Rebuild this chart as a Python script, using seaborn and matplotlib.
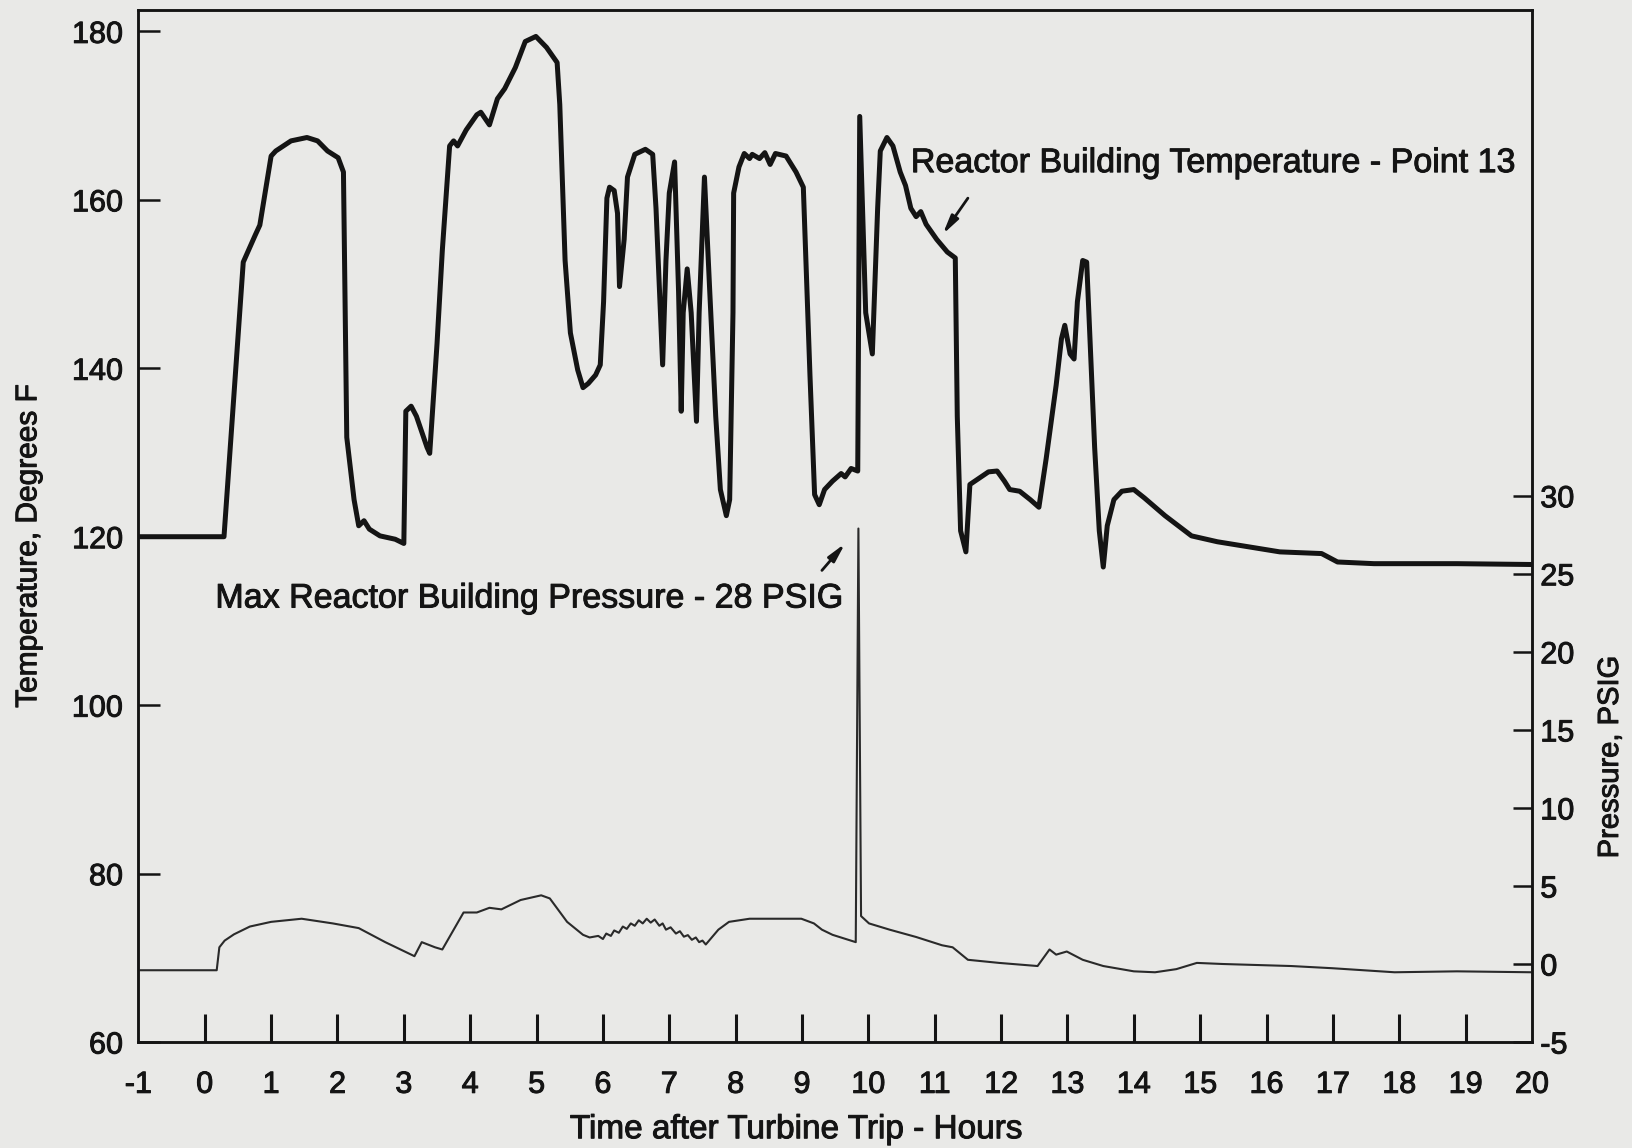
import numpy as np
import pandas as pd
import matplotlib
matplotlib.use("Agg")
import matplotlib.pyplot as plt
import matplotlib.patheffects as pe
import seaborn as sns

# ---- data ----
temp_hours = [-1.0, 0.29, 0.58, 0.76, 0.83, 1.0, 1.07, 1.3, 1.54, 1.7, 1.85, 2.01, 2.09, 2.14,
              2.25, 2.32, 2.4, 2.48, 2.64, 2.87, 3.0, 3.03, 3.11, 3.19, 3.35, 3.39, 3.5, 3.58,
              3.69, 3.75, 3.81, 3.94, 4.1, 4.16, 4.29, 4.41, 4.52, 4.68, 4.83, 4.99, 5.15, 5.31,
              5.35, 5.43, 5.51, 5.62, 5.7, 5.78, 5.89, 5.96, 6.01, 6.06, 6.1, 6.17, 6.22, 6.25,
              6.32, 6.37, 6.48, 6.64, 6.75, 6.8, 6.9, 6.95, 7.0, 7.08, 7.14, 7.18, 7.21, 7.27,
              7.33, 7.41, 7.45, 7.53, 7.61, 7.7, 7.77, 7.86, 7.91, 7.96, 7.97, 8.05, 8.13, 8.21,
              8.25, 8.36, 8.44, 8.52, 8.6, 8.76, 8.91, 9.02, 9.12, 9.19, 9.26, 9.34, 9.46, 9.59,
              9.65, 9.74, 9.84, 9.87, 9.96, 10.06, 10.14, 10.18, 10.28, 10.37, 10.48, 10.56,
              10.64, 10.72, 10.79, 10.87, 11.03, 11.19, 11.31, 11.34, 11.39, 11.47, 11.53, 11.66,
              11.81, 11.94, 12.05, 12.13, 12.28, 12.44, 12.57, 12.68, 12.83, 12.91, 12.96, 13.04,
              13.1, 13.15, 13.23, 13.29, 13.35, 13.41, 13.48, 13.54, 13.6, 13.7, 13.82, 14.0,
              14.16, 14.47, 14.87, 15.26, 15.73, 16.2, 16.83, 17.07, 17.62, 18.87, 20.0]
temp_values = [120.0, 120.0, 152.6, 155.8, 157.0, 165.2, 165.8, 167.0, 167.4, 167.0, 165.8, 165.0,
               163.3, 131.8, 124.4, 121.3, 121.9, 120.9, 120.1, 119.7, 119.2, 134.9, 135.5, 134.3,
               130.6, 129.9, 142.9, 154.0, 166.4, 167.0, 166.4, 168.3, 170.1, 170.4, 168.9, 172.0,
               173.2, 175.7, 178.8, 179.4, 178.1, 176.3, 171.3, 152.8, 144.2, 139.8, 137.7, 138.2,
               139.2, 140.4, 147.9, 160.2, 161.5, 161.1, 158.4, 149.7, 155.3, 162.7, 165.4, 166.0,
               165.4, 159.0, 140.4, 152.8, 160.8, 164.5, 149.1, 134.9, 146.6, 151.8, 146.6, 133.7,
               146.6, 162.7, 149.1, 134.3, 125.6, 122.5, 124.4, 146.6, 160.8, 163.9, 165.5, 164.9,
               165.4, 164.9, 165.6, 164.2, 165.5, 165.2, 163.3, 161.5, 139.2, 125.0, 123.8, 125.6,
               126.6, 127.5, 127.1, 128.1, 127.8, 169.9, 146.6, 141.7, 159.0, 165.8, 167.4, 166.4,
               163.3, 161.7, 159.0, 158.0, 158.6, 157.1, 155.3, 153.8, 153.1, 134.3, 120.7, 118.2,
               126.2, 126.9, 127.7, 127.8, 126.6, 125.6, 125.4, 124.4, 123.5, 129.3, 138.0, 143.5,
               145.1, 141.7, 141.1, 147.9, 152.8, 152.6, 141.7, 130.6, 120.7, 116.4, 121.3, 124.4,
               125.4, 125.6, 124.6, 122.5, 120.1, 119.4, 118.8, 118.2, 118.0, 117.0, 116.8, 116.8,
               116.7]

pres_hours = [-1.0, 0.18, 0.22, 0.3, 0.44, 0.68, 1.0, 1.46, 1.93, 2.32, 2.72, 3.16, 3.27, 3.47,
              3.58, 3.9, 4.1, 4.29, 4.47, 4.76, 5.07, 5.2, 5.46, 5.7, 5.8, 5.93, 6.0, 6.05, 6.12,
              6.17, 6.24, 6.3, 6.36, 6.42, 6.48, 6.54, 6.6, 6.66, 6.72, 6.78, 6.85, 6.9, 6.95,
              7.02, 7.1, 7.16, 7.22, 7.28, 7.34, 7.4, 7.45, 7.5, 7.55, 7.74, 7.9, 8.21, 8.99,
              9.18, 9.3, 9.46, 9.81, 9.85, 9.89, 10.01, 10.32, 10.72, 11.11, 11.27, 11.5, 11.97,
              12.55, 12.73, 12.83, 12.99, 13.23, 13.54, 14.0, 14.32, 14.64, 14.95, 15.34, 16.37,
              16.99, 17.93, 18.87, 20.0]
pres_values = [-0.4, -0.4, 1.07, 1.5, 1.9, 2.4, 2.7, 2.9, 2.6, 2.3, 1.4, 0.5, 1.4, 1.07, 0.93,
               3.3, 3.3, 3.6, 3.5, 4.1, 4.4, 4.2, 2.7, 1.87, 1.7, 1.8, 1.6, 1.95, 1.8, 2.15, 2.0,
               2.4, 2.25, 2.6, 2.45, 2.8, 2.6, 2.9, 2.65, 2.85, 2.45, 2.6, 2.2, 2.35, 1.95, 2.1,
               1.75, 1.85, 1.55, 1.7, 1.4, 1.5, 1.25, 2.2, 2.7, 2.9, 2.9, 2.6, 2.2, 1.87, 1.4,
               27.9, 3.07, 2.6, 2.2, 1.73, 1.2, 1.07, 0.27, 0.07, -0.13, 0.93, 0.6, 0.8, 0.27,
               -0.13, -0.47, -0.53, -0.33, 0.07, 0.0, -0.13, -0.27, -0.53, -0.47, -0.53]

x_labels = [str(v) for v in range(-1, 21)]
temp_ticks = [60, 80, 100, 120, 140, 160, 180]
pres_ticks = [-5, 0, 5, 10, 15, 20, 25, 30]

temp_df = pd.DataFrame({"hours": temp_hours, "temp": temp_values})
pres_df = pd.DataFrame({"hours": pres_hours, "pres": pres_values})

# ---- styling ----
sns.set_style("white")
plt.rcParams["font.family"] = ["Liberation Sans", "DejaVu Sans"]
bg = "#e9e9e7"
ink = "#141414"
thick = [pe.withStroke(linewidth=0.7, foreground=ink)]

fig = plt.figure(figsize=(16.32, 11.48), dpi=100, facecolor=bg)
ax = fig.add_axes([0.0848, 0.0923, 0.8539, 0.8987])
ax.set_facecolor(bg)

sns.lineplot(data=temp_df, x="hours", y="temp", sort=False, estimator=None,
             color=ink, linewidth=3.6, ax=ax)
ax.set_xlim(-1, 20)
ax.set_ylim(60, 182.5)

ax2 = ax.twinx()
sns.lineplot(data=pres_df, x="hours", y="pres", sort=False, estimator=None,
             color="#2a2a2a", linewidth=1.5, ax=ax2)
ax2.set_ylim(-5, 61.1)
ax2.set_xlim(-1, 20)

for a in (ax, ax2):
    for s in a.spines.values():
        s.set_color(ink)
        s.set_linewidth(1.8)
        s.set_visible(True)

ax.set_xticks(list(range(-1, 21)))
ax.set_xticklabels(x_labels, fontsize=22, color=ink)
ax.tick_params(axis="x", direction="in", length=20, width=2.2, pad=20, colors=ink,
               bottom=True, top=False)
for t in ax.xaxis.get_major_ticks():
    if t.get_loc() in (-1, 20):
        t.tick1line.set_visible(False)

ax.set_yticks(temp_ticks)
ax.set_yticklabels([str(v) for v in temp_ticks], fontsize=22, color=ink)
ax.tick_params(axis="y", direction="in", length=16, width=1.8, pad=11, colors=ink,
               left=True, right=False)

ax2.set_yticks(pres_ticks)
ax2.set_yticklabels([str(v) for v in pres_ticks], fontsize=22, color=ink)
ax2.tick_params(axis="y", direction="in", length=14, width=1.8, pad=6, colors=ink,
                right=True, left=False)

for lab in ax.get_xticklabels() + ax.get_yticklabels() + ax2.get_yticklabels():
    lab.set_path_effects(thick)

ax.set_xlabel("Time after Turbine Trip - Hours", fontsize=24, color=ink)
ax.xaxis.set_label_coords(0.472, -0.085)
ax.xaxis.label.set_va("center")
ax.set_ylabel("Temperature, Degrees F", fontsize=21.5, color=ink)
ax.yaxis.set_label_coords(-0.079, 0.481)
ax.yaxis.label.set_va("center")
ax.yaxis.label.set_ha("center")
ax2.set_ylabel("Pressure, PSIG", fontsize=21, color=ink)
ax2.yaxis.set_label_coords(1.056, 0.276)
ax2.yaxis.label.set_va("center")
ax2.yaxis.label.set_ha("center")
for lab in (ax.xaxis.label, ax.yaxis.label, ax2.yaxis.label):
    lab.set_path_effects(thick)

arrow = dict(arrowstyle="-|>,head_length=1.1,head_width=0.25", color=ink, lw=2.0,
             shrinkA=0, shrinkB=0)
t1 = ax.text(10.64, 164.3, "Reactor Building Temperature - Point 13", fontsize=24.5,
             color=ink, ha="left", va="center")
ax.annotate("", xy=(11.12, 155.9), xytext=(11.5, 160.2), arrowprops=arrow)
t2 = ax.text(0.16, 112.6, "Max Reactor Building Pressure - 28 PSIG", fontsize=24.5,
             color=ink, ha="left", va="center")
ax.annotate("", xy=(9.65, 119.2), xytext=(9.30, 116.0), arrowprops=arrow)
for t in (t1, t2):
    t.set_path_effects(thick)

fig.savefig("out.png", dpi=100, facecolor=bg)
